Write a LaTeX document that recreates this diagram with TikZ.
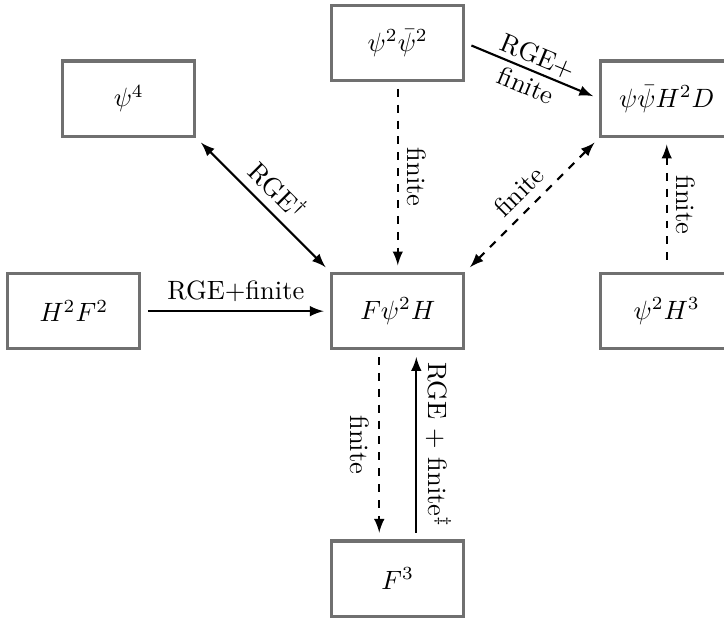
\documentclass[tikz,border=0pt]{standalone}
\usetikzlibrary{arrows}
\begin{document}
\begin{tikzpicture}[>=latex, thick]
  \tikzstyle{op}=[rectangle, draw=black!56, line width=1.2pt, minimum width=1.75cm, minimum height=1cm]
  \tikzstyle{flow}=[shorten >=2.5pt, shorten <=2.5pt]
  \useasboundingbox (0,0) rectangle (9.61,-8.19);
  \node[op] (psiPsibar) at (5.28,-0.57) {$\psi^2\bar\psi^2$};
  \node[op] (psiFour) at (1.71,-1.31) {$\psi^4$};
  \node[op] (psiHD) at (8.85,-1.31) {$\psi\bar\psi H^2 D$};
  \node[op] (HF) at (0.98,-4.13) {$H^2F^2$};
  \node[op] (FpsiH) at (5.28,-4.13) {$F\psi^2 H$};
  \node[op] (psiH) at (8.85,-4.13) {$\psi^2 H^3$};
  \node[op] (Fcube) at (5.28,-7.68) {$F^3$};
  % RGE and finite parts
  \draw[flow,->] (psiPsibar.east) -- node[midway, sloped, align=center] {RGE+\\finite} (psiHD.west);
  \draw[flow,<->] (psiFour.south east) -- node[midway, above, sloped] {RGE$^\dagger$} (FpsiH.north west);
  \draw[flow,->,dashed] (psiPsibar.south) -- node[midway, above, sloped] {finite} (FpsiH.north);
  \draw[flow,<->,dashed] (FpsiH.north east) -- node[midway, above, sloped] {finite} (psiHD.south west);
  \draw[flow,<-,dashed] (psiHD.south) -- node[midway, above, sloped] {finite} (psiH.north);
  \draw[flow,->] (HF.east) -- node[midway, above] {RGE+finite} (FpsiH.west);
  \draw[flow,->,dashed] ([xshift=-7pt]FpsiH.south) -- node[midway, below, sloped] {finite} ([xshift=-7pt]Fcube.north);
  \draw[flow,<-] ([xshift=7pt]FpsiH.south) -- node[midway, above, sloped] {RGE + finite$^\ddagger$} ([xshift=7pt]Fcube.north);
\end{tikzpicture}
\end{document}
